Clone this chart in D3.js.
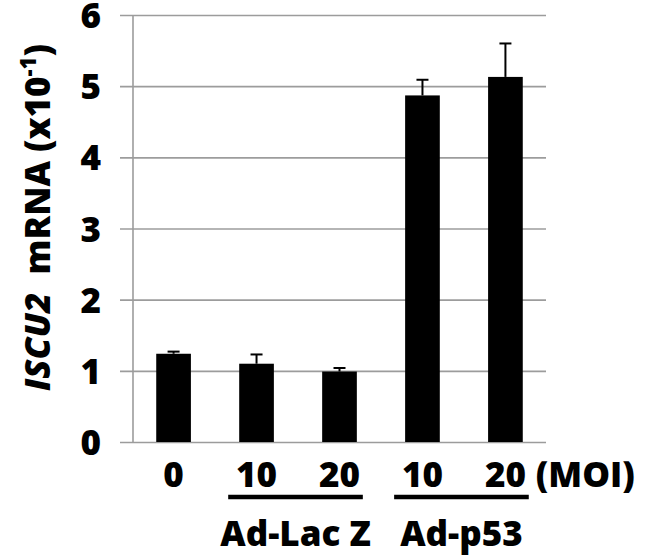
<!DOCTYPE html>
<html>
<head>
<meta charset="utf-8">
<script src="https://cdn.jsdelivr.net/npm/d3@7"></script>
<style>
  body { margin: 0; background: #fff; }
  text { font-family: "Open Sans", Lato, sans-serif; font-weight: 800; fill: #000; }
</style>
</head>
<body>
<div id="chart"></div>
<script>
// values
var doses  = ['0', '10', '20', '10', '20']
var groups = ['', 'Ad-Lac Z', 'Ad-Lac Z', 'Ad-p53', 'Ad-p53']
var means  = [1.24, 1.10, 0.99, 4.87, 5.13]
var errs   = [0.03, 0.13, 0.05, 0.22, 0.47]
var yTicks = [0, 1, 2, 3, 4, 5, 6]

var W = 647, H = 556
var m = {l: 133, r: 546, t: 15, b: 442}
var fs = 35

var data = doses.map((d, i) => ({i, dose: d, group: groups[i], mean: means[i], err: errs[i]}))

var svg = d3.select('#chart').append('svg').attr('width', W).attr('height', H)

var x = d3.scaleBand().domain(data.map(d => d.i))
  .range([m.l, m.r]).paddingInner(.582).paddingOuter(.28)
var y = d3.scaleLinear().domain([0, 6]).range([m.b, m.t])

// gridlines + tick labels
var tickLen = m.r - m.l + 13
var ax = svg.append('g').attr('transform', `translate(${m.r},0)`)
  .call(d3.axisLeft(y).tickValues(yTicks).tickSize(tickLen).tickPadding(19).tickFormat(d3.format('d')))
ax.select('.domain').remove()
ax.selectAll('line').attr('stroke', '#9c9c9c').attr('stroke-width', 1.6)
ax.selectAll('text').attr('font-size', fs).attr('font-family', '"Open Sans", sans-serif')
  .attr('font-weight', 800).attr('fill', '#000').attr('dy', '.36em')

svg.append('line')
  .attr('x1', m.l).attr('x2', m.l).attr('y1', y(6)).attr('y2', y(0))
  .attr('stroke', '#9c9c9c').attr('stroke-width', 1.6)

// bars
svg.selectAll('rect.bar').data(data).join('rect')
  .attr('class', 'bar')
  .attr('x', d => x(d.i)).attr('width', x.bandwidth())
  .attr('y', d => y(d.mean)).attr('height', d => y(0) - y(d.mean))
  .attr('fill', '#000')

// error bars (upper only)
var eb = svg.selectAll('g.err').data(data).join('g').attr('class', 'err')
  .attr('transform', d => `translate(${x(d.i) + x.bandwidth()/2},0)`)
eb.append('line').attr('y1', d => y(d.mean)).attr('y2', d => y(d.mean + d.err))
  .attr('stroke', '#000').attr('stroke-width', 2)
eb.append('line').attr('x1', -6).attr('x2', 6)
  .attr('y1', d => y(d.mean + d.err)).attr('y2', d => y(d.mean + d.err))
  .attr('stroke', '#000').attr('stroke-width', 2)

// dose labels
svg.selectAll('text.dose').data(data).join('text')
  .attr('class', 'dose')
  .attr('x', d => x(d.i) + x.bandwidth()/2).attr('y', 487)
  .attr('text-anchor', 'middle').attr('font-size', fs)
  .text(d => d.dose)

svg.append('text')
  .attr('x', x(4) + x.bandwidth() + 13).attr('y', 487)
  .attr('font-size', fs).text('(MOI)')

// group underlines and names
var groupNames = Array.from(new Set(groups.filter(g => g)))
groupNames.forEach(g => {
  var idx = data.filter(d => d.group == g).map(d => d.i)
  var x0 = x(idx[0]) - 11, x1 = x(idx[idx.length - 1]) + x.bandwidth() + 6
  svg.append('line').attr('x1', x0).attr('x2', x1).attr('y1', 497).attr('y2', 497)
    .attr('stroke', '#000').attr('stroke-width', 4.5)
  svg.append('text').attr('x', (x0 + x1)/2).attr('y', 546)
    .attr('text-anchor', 'middle').attr('font-size', fs).text(g)
})

// y axis title
var yt = svg.append('text')
  .attr('transform', `translate(50,${(m.t + m.b)/2 - 11}) rotate(-90)`)
  .attr('text-anchor', 'middle').attr('font-size', fs)
  .attr('xml:space', 'preserve')
yt.append('tspan').attr('font-style', 'italic').text('ISCU2')
yt.append('tspan').text('  mRNA (x10')
yt.append('tspan').attr('font-size', 22).attr('dy', -14).text('-1')
yt.append('tspan').attr('dy', 14).text(')')
</script>
</body>
</html>
